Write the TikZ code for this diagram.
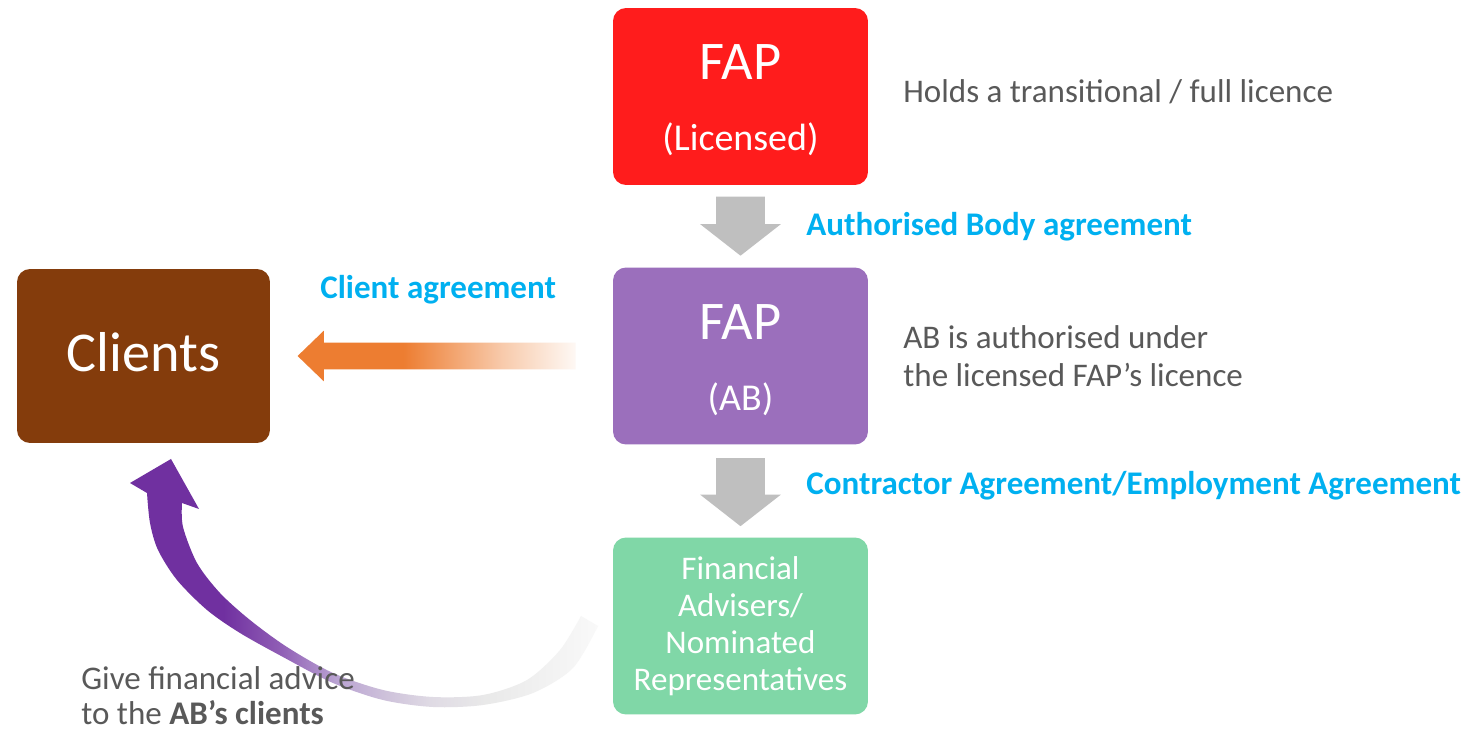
\documentclass[tikz,border=0pt]{standalone}
\usepackage{fontspec}
\setmainfont{Carlito}
\definecolor{LICcolor}{HTML}{FF1C1C}
\definecolor{ABcolor}{HTML}{9B6FBC}
\definecolor{FAcolor}{HTML}{80D7A7}
\definecolor{CLcolor}{HTML}{843C0C}
\definecolor{ARRcolor}{HTML}{BFBFBF}
\definecolor{ORcolor}{HTML}{ED7D31}
\definecolor{PUcolor}{HTML}{7030A0}
\definecolor{AGRcolor}{HTML}{00B0F0}
\definecolor{TXTcolor}{HTML}{595959}
\definecolor{PUfadeA}{HTML}{B9A2D2}
\definecolor{PUfadeB}{HTML}{CDC0DA}
\definecolor{PUfadeC}{HTML}{DFDAE4}
\definecolor{PUfadeD}{HTML}{E9E9E9}
\definecolor{PUfadeE}{HTML}{F9F9F9}
\usetikzlibrary{calc, shapes.arrows}

\pgfdeclarehorizontalshading{orangefade}{100bp}{color(0bp)=(ORcolor); color(44bp)=(ORcolor); color(62bp)=(ORcolor!40); color(75bp)=(ORcolor!5); color(100bp)=(ORcolor!5)}
\pgfdeclarehorizontalshading{purplefade}{100bp}{color(0bp)=(PUcolor); color(35bp)=(PUcolor); color(41bp)=(PUcolor!78!white); color(47bp)=(PUfadeA); color(52bp)=(PUfadeB); color(57bp)=(PUfadeC); color(63bp)=(PUfadeD); color(75bp)=(PUfadeE); color(100bp)=(PUfadeE)}

\begin{document}
\begin{tikzpicture}[x=0.02cm, y=-0.02cm]
    \tikzset{%
        box/.style={rounded corners=0.26cm, minimum width=5.1cm, minimum height=3.54cm, text=white, align=center, inner sep=0},
        boxtitle/.style={text=white, anchor=base, inner sep=0, font=\fontsize{31}{37}\selectfont},
        boxsub/.style={text=white, anchor=base, inner sep=0, font=\fontsize{21.6}{26}\selectfont},
        bodytext/.style={text=TXTcolor, anchor=base west, align=left, inner sep=0, font=\fontsize{18.8}{21.5}\selectfont},
        agreement/.style={text=AGRcolor, anchor=base west, inner sep=0, font=\bfseries\fontsize{18.8}{21.5}\selectfont},
        downarrow/.style={single arrow, shape border rotate=270, anchor=tail, fill=ARRcolor, inner xsep=0.48cm, inner ysep=0, minimum width=1.6cm, single arrow head extend=0.32cm, single arrow tip angle=104},
    }

    \fill [white] (0, 0) rectangle (1471, 732);
    \useasboundingbox (0, 0) rectangle (1471, 732);

    % boxes
    \node [box, fill=LICcolor] (lic) at (740.5, 96.5) {};
    \node [box, fill=ABcolor] (ab) at (740.5, 356) {};
    \node [box, fill=FAcolor, font=\fontsize{18.8}{21}\selectfont] (fa) at (740.5, 626)
        {Financial\\Advisers/\\Nominated\\Representatives};
    \node [box, fill=CLcolor, minimum width=5.06cm, minimum height=3.48cm] (cl) at (143.5, 356) {};

    \node [boxtitle] (lic-t) at ($(lic.north)+(0, 72)$) {FAP};
    \node [boxsub] (lic-s) at ($(lic.north)+(0, 143)$) {(Licensed)};
    \node [boxtitle] (ab-t) at ($(ab.north)+(0, 72)$) {FAP};
    \node [boxsub] (ab-s) at ($(ab.north)+(0, 143)$) {(AB)};
    \node [boxtitle, font=\fontsize{32}{38}\selectfont] (cl-t) at ($(cl.center)+(0, 16)$) {Clients};

    % agreements between the boxes
    \node [downarrow, minimum height=1.18cm] (arr1) at ($(lic.south)+(0, 11)$) {};
    \node [downarrow, minimum height=1.36cm] (arr2) at ($(ab.south)+(0, 13)$) {};
    \node [single arrow, shape border rotate=180, shading=orangefade, inner xsep=0, inner ysep=0.26cm,
        minimum width=1cm, minimum height=5.56cm, single arrow head extend=0.24cm, single arrow tip angle=88]
        (arr3) at ($(cl.east)!0.5!(ab.west)+(2, 0)$) {};

    % advice to the clients
    \shade [shading=purplefade]
        plot [smooth] coordinates {(598, 626) (573, 668) (533, 693) (483, 705) (433, 707) (383, 700) (333, 683) (283, 657) (240, 633) (207, 610) (177, 580) (158, 550) (150, 523) (147, 493)}
        -- (130, 483) -- (171, 459) -- (199, 509)
        -- plot [smooth] coordinates {(182, 503) (183, 527) (197, 563) (220, 593) (250, 620) (287, 647) (333, 673) (383, 690) (433, 697) (483, 695) (527, 680) (560, 650) (581, 616)}
        -- cycle;

    % texts
    \node [bodytext] (lic-txt) at (903, 103) {Holds a transitional / full licence};
    \node [bodytext] (ab-txt1) at (903, 349) {AB is authorised under};
    \node [bodytext] (ab-txt2) at (903, 387) {the licensed FAP’s licence};
    \node [bodytext] (adv1) at (81, 690) {Give financial advice};
    \node [bodytext] (adv2) at (81, 725) {to the \textbf{AB’s clients}};

    \node [agreement] (agr1) at (806, 236) {Authorised Body agreement};
    \node [agreement] (agr2) at (320, 299) {Client agreement};
    \node [agreement] (agr3) at (806, 495) {Contractor Agreement/Employment Agreement};
\end{tikzpicture}
\end{document}
